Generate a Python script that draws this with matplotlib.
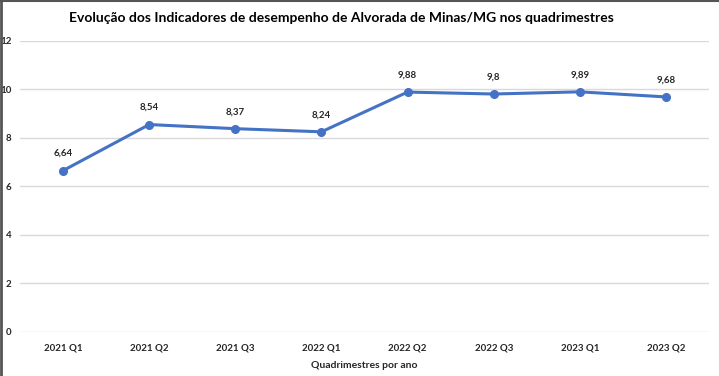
import matplotlib
matplotlib.use("Agg")
import matplotlib.pyplot as plt
from matplotlib.lines import Line2D

categories = ["2021 Q1", "2021 Q2", "2021 Q3", "2022 Q1", "2022 Q2", "2022 Q3", "2023 Q1", "2023 Q2"]
values = [6.64, 8.54, 8.37, 8.24, 9.88, 9.80, 9.89, 9.68]
labels = ["6,64", "8,54", "8,37", "8,24", "9,88", "9,8", "9,89", "9,68"]
yticks = [0, 2, 4, 6, 8, 10, 12]

plt.rcParams['font.family'] = ['Lato', 'DejaVu Sans']

fig = plt.figure(figsize=(7.19, 3.76), dpi=100)
ax = fig.add_axes([20/719, 1-331.5/376, 689/719, (331.5-40.7)/376])

x = list(range(len(categories)))
ax.plot(x, values, color="#4472C4", lw=2.2, marker="o", ms=5.5, zorder=3)
for xi, v, t in zip(x, values, labels):
    ax.annotate(t, (xi, v), xytext=(0, 9), textcoords="offset points",
                ha="center", va="bottom", fontsize=7, fontweight="bold", color="#262626")

ax.set_xlim(-0.5, len(categories)-0.5)
ax.set_ylim(0, 12)
ax.set_yticks(yticks)
ax.set_yticklabels([str(t) for t in yticks], fontsize=7, fontweight="bold", color="#262626")
ax.set_xticks(x)
ax.set_xticklabels(categories, fontsize=7, fontweight="bold", color="#262626")
ax.tick_params(axis="both", length=0)
ax.tick_params(axis="y", pad=6)
ax.tick_params(axis="x", pad=9)
ax.grid(axis="y", color="#D9D9D9", lw=1)
ax.set_axisbelow(True)
for s in ax.spines.values():
    s.set_visible(False)

ax.set_xlabel("Quadrimestres por ano", fontsize=7.5, fontweight="bold", color="#262626", labelpad=6)
fig.text(341/719, 1-18/376, "Evolução dos Indicadores de desempenho de Alvorada de Minas/MG nos quadrimestres",
         ha="center", va="center", fontsize=10, fontweight="bold", color="#000000")

fig.add_artist(Line2D([0.0015, 0.0015], [0, 1], transform=fig.transFigure, color="#555555", lw=2))
fig.add_artist(Line2D([0, 1], [0.998, 0.998], transform=fig.transFigure, color="#555555", lw=1.5))

fig.savefig("out.png", dpi=100)
